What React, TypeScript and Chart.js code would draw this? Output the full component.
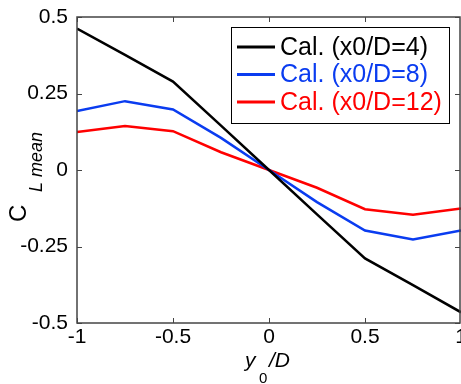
import React, { useEffect, useRef } from "react";
import { Chart, registerables } from "chart.js";

Chart.register(...registerables);

const xValues = [-1, -0.75, -0.5, -0.25, 0, 0.25, 0.5, 0.75, 1];
const x4 = [0.462, 0.376, 0.289, 0.145, 0, -0.145, -0.289, -0.376, -0.465];
const x8 = [0.193, 0.225, 0.198, 0.105, 0, -0.105, -0.198, -0.227, -0.198];
const x12 = [0.124, 0.144, 0.127, 0.058, 0, -0.058, -0.128, -0.146, -0.126];
const seriesLabels = ["Cal. (x0/D=4)", "Cal. (x0/D=8)", "Cal. (x0/D=12)"];
const seriesColors = ["#000000", "#0a3cf0", "#ff0000"];

const FONT = "Arial, 'Liberation Sans', sans-serif";

const fmt = (v: any) => String(Math.round(Number(v) * 100) / 100);

const decorPlugin = {
  id: "decor",
  afterDraw(chart: any) {
    const ctx = chart.ctx as CanvasRenderingContext2D;
    const area = chart.chartArea;
    const xs = chart.scales.x;
    const ys = chart.scales.y;
    ctx.save();
    // box
    ctx.strokeStyle = "#444444";
    ctx.lineWidth = 1.5;
    ctx.strokeRect(area.left, area.top, area.right - area.left - 1, area.bottom - area.top);
    // inward ticks
    const tl = 5;
    ctx.lineWidth = 1;
    ctx.beginPath();
    xs.ticks.forEach((t: any) => {
      const px = Math.round(xs.getPixelForValue(t.value)) + 0.5;
      ctx.moveTo(px, area.bottom);
      ctx.lineTo(px, area.bottom - tl);
      ctx.moveTo(px, area.top);
      ctx.lineTo(px, area.top + tl);
    });
    ys.ticks.forEach((t: any) => {
      const py = Math.round(ys.getPixelForValue(t.value)) + 0.5;
      ctx.moveTo(area.left, py);
      ctx.lineTo(area.left + tl, py);
      ctx.moveTo(area.right - 1, py);
      ctx.lineTo(area.right - 1 - tl, py);
    });
    ctx.stroke();

    // legend
    const lx = 231, ly = 27, lw = 218, lh = 96;
    ctx.fillStyle = "#ffffff";
    ctx.fillRect(lx, ly, lw, lh);
    ctx.strokeStyle = "#000000";
    ctx.lineWidth = 1;
    ctx.strokeRect(lx + 0.5, ly + 0.5, lw, lh);
    ctx.font = `25px ${FONT}`;
    ctx.textBaseline = "middle";
    ctx.textAlign = "left";
    chart.data.datasets.forEach((ds: any, i: number) => {
      const cy = 47 + i * 27.5;
      ctx.strokeStyle = ds.borderColor;
      ctx.lineWidth = 3;
      ctx.beginPath();
      ctx.moveTo(237, cy);
      ctx.lineTo(275, cy);
      ctx.stroke();
      ctx.fillStyle = ds.borderColor;
      ctx.fillText(ds.label, 280, cy + 1);
    });

    // y title
    ctx.fillStyle = "#000000";
    ctx.textBaseline = "alphabetic";
    ctx.save();
    ctx.translate(26, 222);
    ctx.rotate(-Math.PI / 2);
    ctx.font = `24px ${FONT}`;
    ctx.fillText("C", 0, 0);
    ctx.font = `italic 18px ${FONT}`;
    ctx.fillText("L mean", 30, 16);
    ctx.restore();

    // x title
    ctx.font = `italic 21px ${FONT}`;
    ctx.fillText("y", 245, 367);
    ctx.font = `15px ${FONT}`;
    ctx.fillText("0", 259, 383);
    ctx.font = `italic 21px ${FONT}`;
    ctx.fillText("/D", 269, 367);
    ctx.restore();
  },
};

export default function App() {
  const ref = useRef<HTMLCanvasElement>(null);
  useEffect(() => {
    const build = (vals: number[]) => xValues.map((x, i) => ({ x, y: vals[i] }));
    const all = [x4, x8, x12];
    const chart = new Chart(ref.current!, {
      type: "line",
      data: {
        datasets: all.map((vals, i) => ({
          label: seriesLabels[i],
          data: build(vals),
          borderColor: seriesColors[i],
          backgroundColor: seriesColors[i],
          borderWidth: 2.5,
          pointRadius: 0,
          tension: 0,
          fill: false,
        })),
      },
      options: {
        animation: false,
        responsive: false,
        layout: { padding: { top: 17, left: 0, right: 0, bottom: 0 }, autoPadding: false },
        plugins: { legend: { display: false }, tooltip: { enabled: false } },
        scales: {
          x: {
            type: "linear",
            min: -1,
            max: 1,
            ticks: { stepSize: 0.5, color: "#000", font: { family: FONT, size: 21 }, padding: 2, maxRotation: 0, autoSkip: false, callback: fmt },
            grid: { display: false, drawTicks: false },
            border: { display: false },
            afterFit: (s: any) => { s.height = 61; s.paddingLeft = 0; s.paddingRight = 0; },
          },
          y: {
            type: "linear",
            min: -0.5,
            max: 0.5,
            ticks: { stepSize: 0.25, color: "#000", font: { family: FONT, size: 21 }, padding: 9, autoSkip: false, callback: fmt },
            grid: { display: false, drawTicks: false },
            border: { display: false },
            afterFit: (s: any) => { s.width = 77; s.paddingTop = 0; s.paddingBottom = 0; },
          },
        },
      },
      plugins: [decorPlugin],
    });
    return () => chart.destroy();
  }, []);
  return (
    <div style={{ position: "fixed", left: 0, top: 0, width: 461, height: 384, background: "#fff" }}>
      <canvas ref={ref} width={461} height={384} />
    </div>
  );
}
